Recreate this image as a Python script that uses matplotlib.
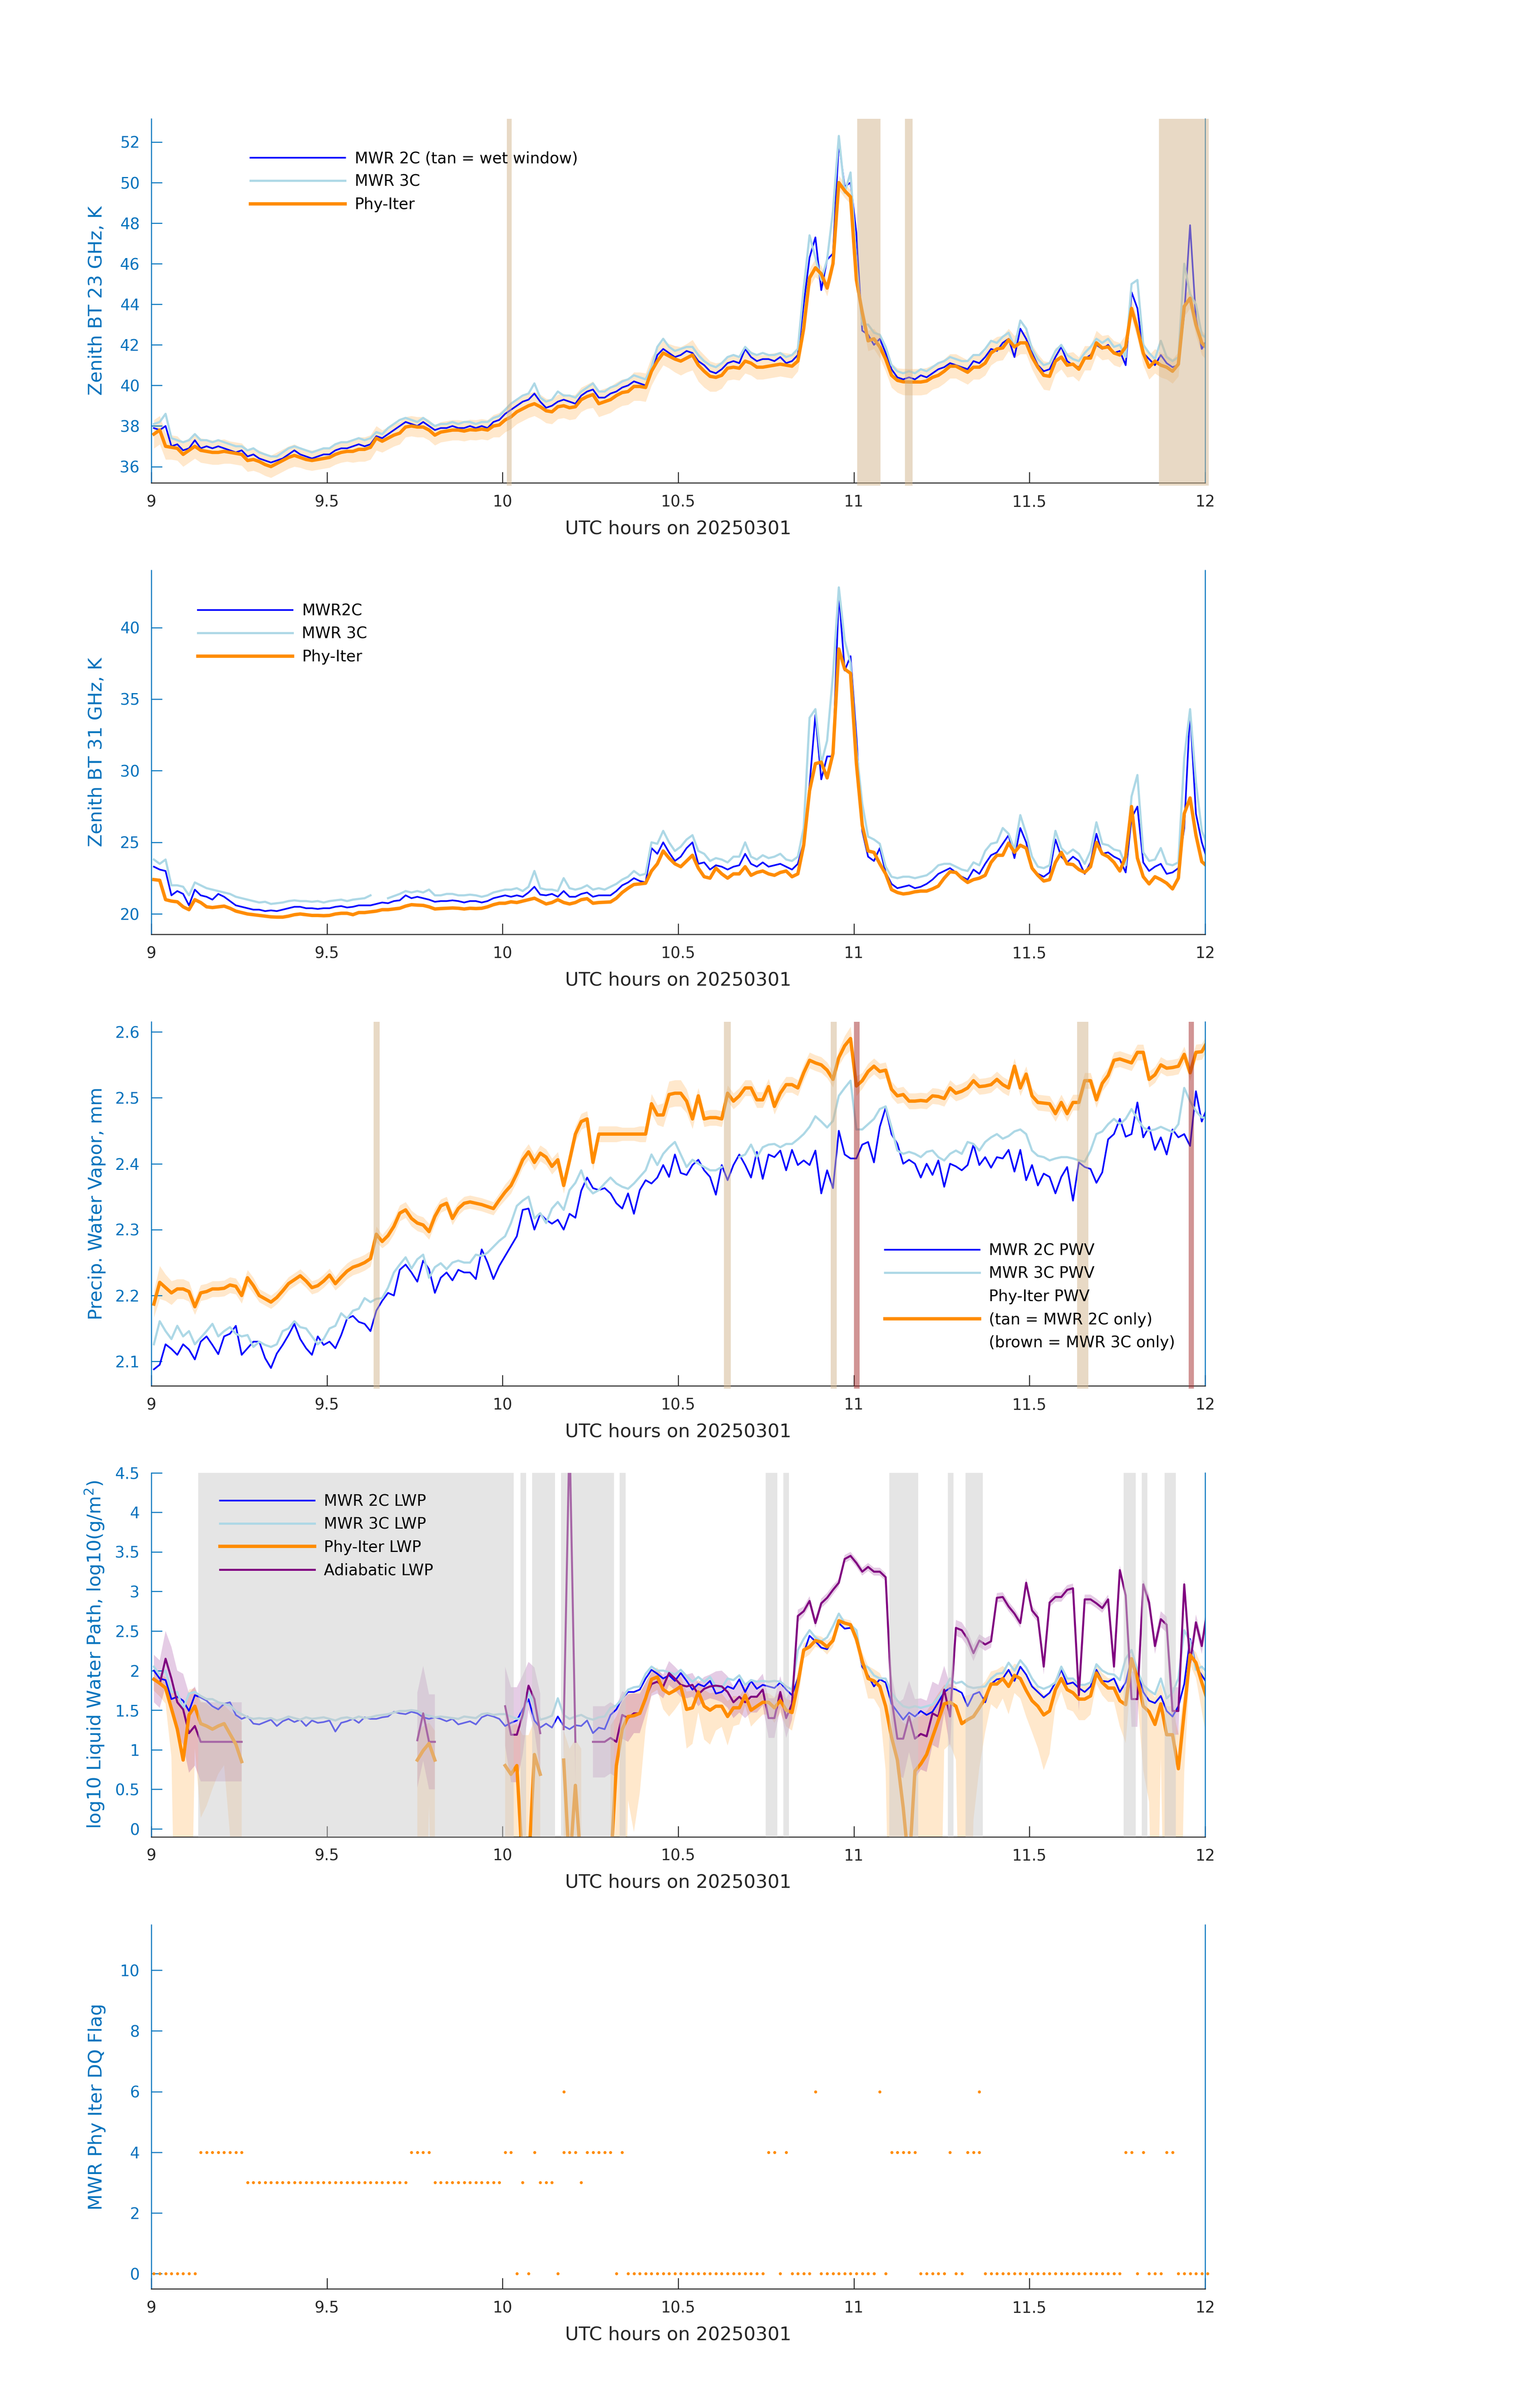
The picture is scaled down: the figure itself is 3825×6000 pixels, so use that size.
import numpy as np
import matplotlib
matplotlib.use("Agg")
import matplotlib.pyplot as plt
from matplotlib.lines import Line2D
from matplotlib.ticker import FuncFormatter

nan = np.nan

# one sample per minute, 09:00 - 12:00 UTC
utc_hours = 9 + (np.arange(181) + 0.43) / 60

x_ticks = [9, 9.5, 10, 10.5, 11, 11.5, 12]
x_tick_labels = ["9", "9.5", "10", "10.5", "11", "11.5", "12"]

# ---------------- panel 1: 23 GHz brightness temperature (K)
bt23_2c = [
    37.9, 37.8, 38.0, 37.0, 37.1, 36.8, 36.9, 37.3, 36.9, 37.0,
    36.9, 37.0, 36.9, 36.8, 36.7, 36.8, 36.5, 36.6, 36.4, 36.3,
    36.2, 36.3, 36.4, 36.6, 36.8, 36.6, 36.5, 36.4, 36.5, 36.6,
    36.6, 36.8, 36.9, 36.9, 37.0, 37.1, 37.0, 37.1, 37.5, 37.4,
    37.6, 37.8, 38.0, 38.2, 38.1, 38.0, 38.2, 38.0, 37.8, 37.9,
    37.9, 38.0, 37.9, 37.9, 38.0, 37.9, 38.0, 37.9, 38.2, 38.3,
    38.6, 38.8, 39.0, 39.2, 39.3, 39.6, 39.2, 38.9, 39.0, 39.2,
    39.3, 39.2, 39.1, 39.5, 39.7, 39.8, 39.4, 39.4, 39.6, 39.7,
    39.9, 40.0, 40.2, 40.1, 40.0, 40.6, 41.5, 41.8, 41.6, 41.4,
    41.5, 41.7, 41.6, 41.2, 41.0, 40.7, 40.6, 40.8, 41.1, 41.2,
    41.1, 41.8, 41.4, 41.2, 41.3, 41.3, 41.2, 41.4, 41.1, 41.2,
    41.5, 44.0, 46.3, 47.3, 44.7, 46.2, 46.5, 52.0, 49.8, 50.0,
    47.5, 42.7, 42.5, 42.0, 42.3, 41.6, 40.8, 40.4, 40.3, 40.4,
    40.3, 40.5, 40.4, 40.6, 40.8, 40.9, 41.1, 41.0, 40.9, 40.8,
    41.2, 41.1, 41.4, 41.8, 41.7, 42.1, 42.3, 41.4, 42.8, 42.3,
    41.6, 41.0, 40.7, 40.8, 41.4, 41.9, 41.2, 41.0, 40.9, 41.3,
    41.5, 42.0, 41.8, 42.0, 41.6, 41.7, 41.0, 44.6, 43.8, 41.6,
    41.3, 41.0, 41.5, 41.1, 40.9, 41.0, 43.5, 47.9, 43.3, 41.8,
    42.3]
bt23_3c = [
    38.1, 38.2, 38.6, 37.4, 37.3, 37.2, 37.3, 37.6, 37.3, 37.3,
    37.2, 37.3, 37.2, 37.1, 37.0, 37.0, 36.8, 36.9, 36.7, 36.6,
    36.5, 36.5, 36.7, 36.9, 37.0, 36.9, 36.8, 36.7, 36.8, 36.9,
    36.9, 37.1, 37.2, 37.2, 37.3, 37.4, 37.3, 37.4, 37.7, 37.6,
    37.9, 38.1, 38.3, 38.4, 38.3, 38.2, 38.4, 38.2, 38.0, 38.1,
    38.1, 38.2, 38.1, 38.2, 38.2, 38.1, 38.2, 38.2, 38.4, 38.5,
    38.8, 39.1, 39.3, 39.5, 39.6, 40.1, 39.4, 39.2, 39.3, 39.7,
    39.5, 39.5, 39.4, 39.7, 39.9, 40.1, 39.7, 39.7, 39.9, 40.0,
    40.2, 40.3, 40.5, 40.4, 40.3, 40.9, 41.9, 42.3, 41.9, 41.7,
    41.8, 41.9, 41.9, 41.5, 41.2, 41.0, 40.9, 41.1, 41.4, 41.5,
    41.4, 41.9, 41.6, 41.5, 41.6, 41.5, 41.5, 41.6, 41.4, 41.5,
    41.8, 44.8, 47.4, 46.3, 45.2, 46.2, 48.6, 52.3, 49.5, 50.5,
    46.0, 43.0, 43.0, 42.6, 42.5, 41.9, 41.0, 40.7, 40.6, 40.7,
    40.6, 40.8, 40.7, 40.9, 41.1, 41.2, 41.4, 41.3, 41.2, 41.2,
    41.5, 41.5, 41.8, 42.2, 42.1, 42.4, 42.6, 41.9, 43.2, 42.8,
    41.8, 41.3, 41.0, 41.1, 41.7, 42.0, 41.5, 41.3, 41.2, 41.6,
    41.9, 42.3, 42.1, 42.3, 41.9, 42.0, 41.4, 45.0, 45.2, 42.0,
    41.6, 41.3, 42.2, 41.4, 41.2, 41.4, 46.0, 44.5, 44.0, 42.5,
    42.3]
bt23_phy = [
    37.6, 37.8, 37.0, 36.95, 36.9, 36.6, 36.8, 37.0, 36.8, 36.75,
    36.7, 36.7, 36.75, 36.7, 36.65, 36.6, 36.3, 36.35, 36.25, 36.1,
    36.0, 36.15, 36.3, 36.45, 36.55, 36.45, 36.35, 36.3, 36.35, 36.4,
    36.45, 36.6, 36.7, 36.75, 36.75, 36.85, 36.85, 36.95, 37.4, 37.25,
    37.4, 37.55, 37.65, 37.95, 38.0, 37.95, 37.95, 37.8, 37.55, 37.7,
    37.75, 37.8, 37.8, 37.75, 37.82, 37.8, 37.85, 37.8, 38.0, 38.05,
    38.3, 38.45, 38.7, 38.85, 39.0, 39.1, 38.95, 38.75, 38.7, 38.95,
    39.0, 38.9, 38.95, 39.3, 39.45, 39.55, 39.1, 39.2, 39.3, 39.5,
    39.65, 39.7, 39.95, 39.95, 39.9, 40.7, 41.2, 41.6, 41.45, 41.3,
    41.2, 41.35, 41.5, 41.0, 40.7, 40.45, 40.4, 40.5, 40.85, 40.9,
    40.85, 41.2, 41.1, 40.9, 40.9, 40.95, 41.0, 41.05, 41.0, 40.95,
    41.2, 42.8, 45.3, 45.8, 45.5, 44.8, 46.0, 50.0, 49.6, 49.3,
    45.2, 43.6, 42.2, 42.3, 41.9, 41.3, 40.5, 40.25, 40.18, 40.17,
    40.17, 40.17, 40.22, 40.4, 40.5, 40.7, 40.95, 40.95, 40.8, 40.65,
    40.9, 40.9, 41.1, 41.6, 41.8, 41.85, 42.25, 41.9, 42.1, 42.1,
    41.4, 40.9, 40.5, 40.45, 41.2, 41.4, 41.0, 41.05, 40.8, 41.35,
    41.35, 42.1, 41.85, 41.9, 41.6, 41.5, 41.9, 43.8, 42.8, 41.6,
    40.9, 41.2, 41.0, 40.9, 40.7, 41.05, 43.9, 44.3, 43.0, 42.1,
    41.8]
bt23_phy_err = [
    .7, .7, .65, .6, .6, .6, .6, .6, .6, .6,
    .6, .6, .6, .55, .55, .55, .55, .55, .55, .55,
    .55, .55, .55, .55, .55, .5, .5, .5, .5, .5,
    .5, .5, .5, .5, .55, .6, .6, .6, .6, .55,
    .55, .55, .55, .5, .5, .5, .5, .5, .5, .5,
    .5, .5, .5, .5, .5, .5, .5, .5, .55, .6,
    .6, .6, .6, .6, .6, .6, .6, .6, .6, .6,
    .6, .6, .6, .6, .6, .65, .65, .65, .65, .65,
    .65, .65, .7, .7, .7, .7, .65, .6, .6, .65,
    .7, .7, .75, .8, .8, .75, .7, .65, .6, .6,
    .6, .6, .6, .6, .6, .6, .6, .6, .6, .6,
    .5, .5, .45, .45, .4, .4, .4, .35, .35, .35,
    .4, .45, .5, .5, .55, .6, .6, .6, .65, .65,
    .65, .65, .65, .6, .6, .6, .6, .6, .6, .6,
    .6, .6, .6, .6, .6, .6, .55, .55, .55, .55,
    .6, .65, .7, .7, .65, .6, .6, .6, .6, .6,
    .6, .6, .6, .6, .6, .6, .6, .5, .5, .6,
    .6, .6, .6, .6, .6, .6, .5, .5, .55, .6,
    .6]
wet_windows = [(10.012, 10.026), (11.010, 11.076), (11.145, 11.167), (11.869, 12.01)]

# ---------------- panel 2: 31 GHz brightness temperature (K)
bt31_2c = [
    23.3, 23.1, 23.0, 21.3, 21.6, 21.4, 20.6, 21.7, 21.3, 21.2,
    21.0, 21.4, 21.2, 20.9, 20.6, 20.5, 20.4, 20.3, 20.3, 20.2,
    20.25, 20.2, 20.3, 20.4, 20.5, 20.5, 20.4, 20.4, 20.35, 20.4,
    20.4, 20.5, 20.55, 20.45, 20.5, 20.6, 20.6, 20.6, 20.7, 20.8,
    20.75, 20.9, 20.95, 21.3, 21.1, 21.2, 21.1, 21.0, 20.85, 20.9,
    20.9, 20.95, 20.9, 20.8, 20.9, 20.9, 20.8, 20.9, 21.1, 21.2,
    21.3, 21.2, 21.3, 21.2, 21.5, 21.9, 21.35, 21.3, 21.4, 21.2,
    21.6, 21.2, 21.2, 21.4, 21.5, 21.2, 21.3, 21.3, 21.3, 21.6,
    22.0, 22.2, 22.5, 22.3, 22.2, 24.6, 24.2, 25.0, 24.3, 23.7,
    24.0, 24.6, 25.0, 23.5, 23.6, 23.1, 23.4, 23.3, 23.1, 23.3,
    23.4, 24.2, 23.5, 23.3, 23.6, 23.3, 23.4, 23.5, 23.3, 23.1,
    23.5, 25.0, 29.0, 33.9, 29.4, 31.0, 31.0, 42.4, 37.0, 38.0,
    32.4, 25.8, 24.0, 23.7, 24.6, 22.9, 22.1, 21.8, 21.9, 22.0,
    21.8, 21.9, 22.1, 22.4, 22.8, 23.0, 23.2, 22.9, 22.6, 22.4,
    23.1, 22.8, 23.5, 24.1, 24.3, 24.9, 25.5, 23.9, 26.0, 25.0,
    23.2, 22.8, 22.6, 22.9, 25.2, 24.0, 23.6, 24.0, 23.7, 22.8,
    23.6, 25.6, 24.2, 24.3, 24.0, 23.8, 22.9, 26.7, 27.5, 23.6,
    23.0, 23.3, 23.5, 22.8, 22.9, 23.2, 26.0, 34.2, 27.0, 25.0,
    23.7]
bt31_3c = [
    23.8, 23.5, 23.8, 22.0, 22.0, 21.9, 21.3, 22.2, 22.0, 21.8,
    21.7, 21.6, 21.5, 21.4, 21.2, 21.1, 21.0, 20.9, 20.8, 20.85,
    20.7, 20.75, 20.8, 20.9, 20.95, 20.9, 20.9, 20.85, 20.9, 20.8,
    20.9, 20.95, 21.0, 20.9, 21.0, 21.05, 21.1, 21.3, nan, nan,
    21.1, 21.25, 21.4, 21.6, 21.5, 21.6, 21.5, 21.7, 21.3, 21.3,
    21.4, 21.4, 21.3, 21.3, 21.35, 21.3, 21.2, 21.3, 21.5, 21.6,
    21.7, 21.7, 21.8, 21.6, 21.9, 23.0, 21.8, 21.7, 21.7, 21.6,
    22.5, 21.8, 21.7, 21.8, 22.0, 21.7, 21.8, 21.7, 21.9, 22.1,
    22.4, 22.6, 23.0, 22.7, 22.8, 25.0, 24.9, 25.8, 25.0, 24.4,
    24.7, 25.2, 25.5, 24.4, 24.2, 23.7, 23.9, 23.8, 23.6, 24.0,
    24.0, 25.0, 24.0, 23.8, 24.1, 23.9, 24.0, 24.2, 23.8, 23.7,
    24.0, 26.0, 33.7, 34.3, 30.5, 32.1, 36.7, 42.8, 39.1, 37.5,
    31.5, 27.7, 25.4, 25.2, 24.9, 23.3, 22.6, 22.5, 22.6, 22.6,
    22.5, 22.6, 22.7, 23.0, 23.4, 23.5, 23.5, 23.3, 23.1, 23.0,
    23.6, 23.4, 24.4, 24.9, 25.0, 26.0, 25.6, 24.5, 26.9, 25.6,
    24.0, 23.3, 23.2, 23.4, 25.8, 24.6, 24.2, 24.5, 24.2, 23.5,
    24.4, 26.4, 24.9, 24.8, 24.5, 24.4, 23.4, 28.2, 29.7, 24.3,
    23.7, 23.8, 24.6, 23.5, 23.4, 23.6, 30.9, 34.3, 29.2, 25.8,
    24.8]
bt31_phy = [
    22.4, 22.35, 21.0, 20.9, 20.85, 20.5, 20.3, 21.0, 20.8, 20.5,
    20.45, 20.5, 20.55, 20.4, 20.2, 20.1, 20.0, 19.95, 19.9, 19.85,
    19.8, 19.78, 19.78, 19.85, 19.95, 20.0, 19.95, 19.9, 19.9, 19.88,
    19.9, 20.0, 20.05, 20.05, 19.95, 20.1, 20.1, 20.15, 20.2, 20.3,
    20.3, 20.35, 20.4, 20.55, 20.65, 20.62, 20.6, 20.5, 20.35, 20.38,
    20.4, 20.42, 20.4, 20.35, 20.4, 20.38, 20.4, 20.5, 20.65, 20.75,
    20.75, 20.85, 20.8, 20.9, 21.0, 21.1, 20.9, 20.7, 20.8, 21.0,
    20.8, 20.7, 20.8, 21.0, 21.07, 20.75, 20.8, 20.82, 20.84, 21.1,
    21.5, 21.8, 22.06, 22.1, 22.15, 23.0, 23.5, 24.4, 23.9, 23.5,
    23.3, 23.7, 24.1, 23.2, 22.6, 22.5, 23.2, 22.8, 22.5, 22.8,
    22.8, 23.3, 22.7, 22.9, 23.0, 22.8, 22.7, 22.9, 23.0, 22.6,
    22.8, 24.8, 28.6, 30.5, 30.6, 29.5, 31.2, 38.5, 37.1, 36.8,
    30.5, 26.2, 24.4, 24.3, 23.5, 22.8, 21.7, 21.5, 21.4, 21.45,
    21.55, 21.6, 21.6, 21.75, 21.95, 22.5, 22.95, 22.9, 22.5, 22.2,
    22.4, 22.5, 22.7, 23.6, 24.1, 24.1, 24.95, 24.3, 24.8, 24.6,
    23.2, 22.7, 22.3, 22.4, 23.6, 24.3, 23.5, 23.45, 23.1, 22.9,
    23.3, 25.0, 24.2, 24.0, 23.6, 23.0, 24.0, 27.5, 23.9, 22.6,
    22.1, 22.6, 22.4, 22.15, 21.75, 22.5, 27.0, 28.1, 25.5, 23.65,
    23.3]
bt31_phy_err = 0.12

# ---------------- panel 3: precipitable water vapour (mm)
pwv_2c = [
    2.088, 2.095, 2.126, 2.119, 2.110, 2.126, 2.118, 2.103, 2.13, 2.138,
    2.125, 2.111, 2.138, 2.142, 2.154, 2.11, 2.12, 2.13, 2.13, 2.105,
    2.09, 2.112, 2.125, 2.14, 2.157, 2.134, 2.12, 2.11, 2.138, 2.125,
    2.13, 2.12, 2.14, 2.165, 2.169, 2.16, 2.157, 2.146, 2.177, 2.192,
    2.204, 2.2, 2.239, 2.247, 2.235, 2.221, 2.253, 2.24, 2.204, 2.227,
    2.235, 2.223, 2.239, 2.235, 2.235, 2.225, 2.27, 2.25, 2.225, 2.245,
    2.26, 2.275, 2.29, 2.33, 2.332, 2.3, 2.324, 2.315, 2.309, 2.315,
    2.3, 2.324, 2.318, 2.359, 2.379, 2.363, 2.36, 2.363, 2.355, 2.34,
    2.332, 2.355, 2.324, 2.36, 2.375, 2.37, 2.379, 2.398, 2.38, 2.414,
    2.386, 2.383, 2.398, 2.406, 2.39, 2.38, 2.353, 2.398, 2.375, 2.398,
    2.414, 2.398, 2.379, 2.418, 2.377, 2.414, 2.41, 2.42, 2.39, 2.421,
    2.398, 2.405, 2.398, 2.42, 2.355, 2.39, 2.363, 2.45, 2.414, 2.408,
    2.408, 2.429, 2.433, 2.402, 2.456, 2.485, 2.445, 2.43, 2.4, 2.406,
    2.4, 2.379, 2.4, 2.383, 2.405, 2.365, 2.4, 2.396, 2.39, 2.398,
    2.429, 2.398, 2.41, 2.394, 2.41, 2.408, 2.421, 2.388, 2.421, 2.375,
    2.398, 2.367, 2.385, 2.38, 2.355, 2.38, 2.395, 2.344, 2.402, 2.395,
    2.392, 2.371, 2.387, 2.437, 2.445, 2.468, 2.441, 2.445, 2.493, 2.44,
    2.456, 2.421, 2.44, 2.414, 2.452, 2.44, 2.445, 2.427, 2.51, 2.464,
    2.487]
pwv_3c = [
    2.126, 2.161, 2.146, 2.134, 2.154, 2.138, 2.146, 2.126, 2.136, 2.146,
    2.157, 2.138, 2.146, 2.152, 2.142, 2.138, 2.14, 2.122, 2.13, 2.125,
    2.122, 2.126, 2.146, 2.15, 2.161, 2.152, 2.15, 2.138, 2.126, 2.134,
    2.15, 2.154, 2.173, 2.165, 2.177, 2.18, 2.196, 2.19, 2.195, 2.196,
    2.212, 2.235, 2.247, 2.258, 2.241, 2.255, 2.262, 2.227, 2.243, 2.249,
    2.24, 2.25, 2.253, 2.25, 2.25, 2.262, 2.26, 2.265, 2.274, 2.283,
    2.29, 2.31, 2.336, 2.344, 2.35, 2.317, 2.325, 2.31, 2.332, 2.342,
    2.33, 2.36, 2.371, 2.39, 2.365, 2.355, 2.36, 2.37, 2.379, 2.37,
    2.365, 2.362, 2.37, 2.38, 2.39, 2.414, 2.398, 2.415, 2.425, 2.433,
    2.414, 2.395, 2.406, 2.4, 2.395, 2.39, 2.39, 2.395, nan, nan,
    2.41, 2.414, 2.429, 2.41, 2.425, 2.429, 2.43, 2.425, 2.43, 2.43,
    2.437, 2.445, 2.456, 2.472, 2.464, 2.455, 2.465, 2.503, 2.515, 2.526,
    2.452, 2.452, 2.46, 2.468, 2.483, 2.487, 2.455, 2.42, 2.415, 2.418,
    2.415, 2.41, 2.418, 2.42, 2.41, 2.405, 2.415, 2.42, 2.415, 2.433,
    2.43, 2.42, 2.433, 2.44, 2.445, 2.438, 2.442, 2.449, 2.452, 2.445,
    2.42, 2.412, 2.41, 2.405, 2.408, 2.41, 2.41, 2.408, 2.405, 2.403,
    2.42, 2.445, 2.449, 2.46, 2.468, 2.46, 2.468, 2.483, 2.468, 2.455,
    2.45, 2.452, 2.456, 2.452, 2.448, 2.46, 2.515, 2.495, 2.48, 2.47,
    2.47]
pwv_phy = [
    2.187, 2.22, 2.212, 2.204, 2.21, 2.21, 2.206, 2.183, 2.204, 2.206,
    2.21, 2.21, 2.211, 2.216, 2.214, 2.2, 2.227, 2.215, 2.2, 2.195,
    2.19, 2.197, 2.207, 2.218, 2.224, 2.23, 2.222, 2.212, 2.215, 2.222,
    2.231, 2.218, 2.228, 2.237, 2.243, 2.246, 2.25, 2.256, 2.293, 2.282,
    2.291, 2.305, 2.325, 2.33, 2.317, 2.31, 2.307, 2.297, 2.32, 2.336,
    2.34, 2.317, 2.332, 2.34, 2.342, 2.34, 2.338, 2.335, 2.332, 2.345,
    2.357, 2.367, 2.385, 2.406, 2.418, 2.402, 2.416, 2.41, 2.396, 2.406,
    2.367, 2.405, 2.445, 2.464, 2.468, 2.402, 2.445, 2.445, 2.445, 2.445,
    2.445, 2.445, 2.445, 2.445, 2.445, 2.491, 2.474, 2.474, 2.505, 2.507,
    2.507, 2.495, 2.468, 2.503, 2.468, 2.47, 2.47, 2.468, 2.507, 2.495,
    2.503, 2.515, 2.515, 2.497, 2.497, 2.517, 2.487, 2.507, 2.52, 2.52,
    2.515, 2.538, 2.557, 2.553, 2.55, 2.542, 2.528, 2.561, 2.579, 2.59,
    2.518, 2.526, 2.54, 2.548, 2.54, 2.542, 2.513, 2.503, 2.505, 2.495,
    2.495, 2.496, 2.495, 2.503, 2.502, 2.499, 2.515, 2.507, 2.51, 2.515,
    2.526, 2.517, 2.518, 2.52, 2.528, 2.52, 2.515, 2.548, 2.515, 2.536,
    2.503, 2.493, 2.492, 2.491, 2.476, 2.493, 2.476, 2.493, 2.493, 2.526,
    2.526, 2.497, 2.522, 2.534, 2.557, 2.559, 2.556, 2.553, 2.569, 2.569,
    2.528, 2.535, 2.55, 2.545, 2.546, 2.548, 2.566, 2.538, 2.569, 2.57,
    2.586]
pwv_phy_err = [
    .02, .025, .02, .018, .015, .015, .015, .012, .012, .012,
    .012, .012, .012, .012, .012, .012, .012, .012, .01, .01,
    .01, .01, .01, .01, .01, .01, .01, .01, .01, .01,
    .01, .01, .012, .012, .012, .012, .012, .012, .012, .01,
    .012, .012, .012, .012, .012, .012, .012, .012, .012, .01,
    .01, .01, .01, .01, .01, .01, .01, .01, .01, .01,
    .012, .012, .012, .012, .012, .012, .012, .012, .012, .012,
    .012, .012, .012, .012, .012, .012, .012, .012, .012, .012,
    .01, .01, .01, .012, .012, .015, .015, .018, .02, .02,
    .02, .018, .015, .012, .012, .012, .012, .012, .012, .012,
    .012, .012, .012, .012, .012, .012, .012, .012, .012, .012,
    .012, .012, .012, .012, .012, .012, .012, .012, .015, .018,
    .015, .012, .012, .012, .012, .012, .012, .012, .012, .012,
    .012, .012, .012, .012, .012, .012, .012, .012, .012, .012,
    .012, .012, .012, .012, .012, .012, .012, .012, .012, .012,
    .012, .012, .012, .012, .012, .012, .012, .012, .012, .012,
    .012, .012, .012, .012, .012, .012, .012, .012, .012, .012,
    .012, .012, .012, .012, .012, .012, .012, .012, .012, .012,
    .012]
pwv_2c_only = [(9.633, 9.650), (10.630, 10.650), (10.934, 10.951), (11.635, 11.668)]
pwv_3c_only = [(11.0, 11.016), (11.953, 11.968)]

# ---------------- panel 4: log10 liquid water path
lwp_2c = [
    2.0, 1.9, 1.88, 1.64, 1.67, 1.62, 1.49, 1.69, 1.66, 1.62,
    1.55, 1.51, 1.58, 1.6, 1.44, 1.39, 1.42, 1.33, 1.32, 1.35,
    1.38, 1.3, 1.36, 1.39, 1.35, 1.38, 1.3, 1.37, 1.34, 1.35,
    1.37, 1.23, 1.34, 1.36, 1.39, 1.34, 1.41, 1.39, 1.39, 1.41,
    1.42, 1.48, 1.46, 1.45, 1.48, 1.46, 1.41, 1.39, 1.41, 1.39,
    1.36, 1.39, 1.32, 1.34, 1.36, 1.32, 1.41, 1.44, 1.42, 1.39,
    1.3, 1.34, 1.37, 1.51, 1.64, 1.37, 1.28, 1.33, 1.28, 1.42,
    1.3, 1.26, 1.31, 1.3, 1.37, 1.21, 1.28, 1.26, 1.44, 1.51,
    1.65, 1.73, 1.73, 1.76, 1.9, 2.01, 1.96, 1.9, 1.94, 1.87,
    1.97, 1.87, 1.76, 1.83, 1.8, 1.87, 1.71, 1.73, 1.8, 1.77,
    1.89, 1.73, 1.87, 1.77, 1.82, 1.8, 1.78, 1.85, 1.76, 1.69,
    1.9, 2.22, 2.44, 2.37, 2.29, 2.27, 2.4, 2.6, 2.53, 2.54,
    2.44, 2.05, 1.94, 1.8, 1.89, 1.85, 1.58, 1.48, 1.38, 1.47,
    1.42, 1.49, 1.44, 1.48, 1.6, 1.73, 1.78, 1.76, 1.72, 1.55,
    1.7, 1.73, 1.6, 1.83, 1.89, 1.9, 2.01, 1.87, 2.05, 1.95,
    1.8, 1.73, 1.66, 1.72, 1.85, 2.01, 1.83, 1.85, 1.78, 1.73,
    1.8, 2.01, 1.87, 1.86, 1.9, 1.73, 1.85, 2.15, 2.01, 1.73,
    1.62, 1.59, 1.68, 1.49, 1.42, 1.55, 1.83, 2.4, 2.05, 1.94,
    1.83]
lwp_3c = [
    2.05, 1.94, 2.0, 1.73, 1.73, 1.52, 1.71, 1.73, 1.68, 1.64,
    1.64, 1.6, 1.58, 1.56, 1.49, 1.45, 1.41, 1.39, 1.4, 1.39,
    1.4, 1.37, 1.39, 1.42, 1.4, 1.38, 1.41, 1.39, 1.4, 1.41,
    1.39, 1.37, 1.4, 1.41, 1.39, 1.42, 1.4, 1.41, 1.43, 1.44,
    1.45, 1.47, 1.49, 1.49, 1.5, 1.49, 1.45, 1.43, 1.41, 1.42,
    1.41, 1.4, 1.39, 1.42, 1.41, 1.4, 1.45, 1.46, 1.44, 1.45,
    1.45, 1.42, 1.39, 1.4, 1.73, 1.56, 1.38, 1.4, 1.43, 1.65,
    1.44, 1.39, 1.42, 1.44, 1.4, 1.38, 1.41, 1.42, 1.53, 1.56,
    1.65, 1.76, 1.79, 1.8, 1.96, 2.05, 2.0, 2.0, 1.98, 1.95,
    2.01, 1.93, 1.86, 1.92, 1.86, 1.92, 1.8, 1.78, 1.9, 1.88,
    1.94, 1.82, 1.88, 1.86, 1.87, 1.86, 1.87, 1.86, 1.8, 1.76,
    2.26, 2.4, 2.51, 2.42, 2.37, 2.42, 2.56, 2.72, 2.6, 2.58,
    2.51, 2.08, 2.04, 1.94, 1.9, 1.9, 1.72, 1.62, 1.55, 1.53,
    1.55, 1.53, 1.55, 1.57, 1.66, 1.76, 1.9, 1.84, 1.86, 1.8,
    1.78, 1.79, 1.8, 1.9, 1.96, 1.97, 2.1, 2.0, 2.13, 2.04,
    1.9, 1.8, 1.77, 1.8, 1.85, 2.05, 1.9, 1.9, 1.82, 1.82,
    1.85, 2.08, 2.0, 1.96, 1.95, 1.88, 2.15, 2.26, 2.0, 1.82,
    1.75, 1.7, 1.9, 1.65, 1.72, 1.9, 2.51, 2.37, 2.01, 2.05,
    1.97]
lwp_phy = [
    1.89, 1.84, 1.78, 1.52, 1.26, 0.87, 1.44, 1.55, 1.33, 1.3,
    1.26, 1.3, 1.33, 1.2, 1.07, 0.85, nan, nan, nan, nan,
    nan, nan, nan, nan, nan, nan, nan, nan, nan, nan,
    nan, nan, nan, nan, nan, nan, nan, nan, nan, nan,
    nan, nan, nan, nan, nan, 0.87, 0.99, 1.08, 0.87, nan,
    nan, nan, nan, nan, nan, nan, nan, nan, nan, nan,
    0.8, 0.69, 0.8, -0.5, -0.5, 0.94, 0.69, nan, nan, nan,
    0.87, -0.5, 0.55, -0.5, nan, nan, nan, nan, -0.5, 0.8,
    1.26, 1.42, 1.43, 1.46, 1.65, 1.89, 1.92, 1.76, 1.71, 1.75,
    1.8, 1.51, 1.53, 1.73, 1.55, 1.5, 1.55, 1.55, 1.42, 1.53,
    1.53, 1.69, 1.5, 1.55, 1.6, 1.6, 1.53, 1.62, 1.5, 1.47,
    1.83, 2.26, 2.3, 2.38, 2.36, 2.3, 2.38, 2.63, 2.6, 2.58,
    2.4, 2.12, 1.9, 1.87, 1.8, 1.55, 1.16, 0.87, 0.27, -0.5,
    0.73, 0.82, 0.94, 1.16, 1.37, 1.58, 1.6, 1.55, 1.33, 1.38,
    1.42, 1.53, 1.65, 1.83, 1.83, 1.9, 1.8, 1.94, 1.9, 1.75,
    1.62, 1.55, 1.44, 1.49, 1.76, 1.9, 1.76, 1.72, 1.64, 1.64,
    1.68, 1.97, 1.85, 1.78, 1.78, 1.62, 1.57, 2.15, 1.9, 1.55,
    1.48, 1.32, 1.58, 1.19, 1.19, 0.76, 1.48, 2.2, 2.1, 1.85,
    1.62]
# Phy-Iter LWP uncertainty, g/m2
lwp_phy_err = [
    22, 22, 22, 25, 30, 25, 30, 25, 20, 18,
    15, 15, 15, 15, 15, 15, 0, 0, 0, 0,
    0, 0, 0, 0, 0, 0, 0, 0, 0, 0,
    0, 0, 0, 0, 0, 0, 0, 0, 0, 0,
    0, 0, 0, 0, 0, 10, 10, 10, 10, 0,
    0, 0, 0, 0, 0, 0, 0, 0, 0, 0,
    15, 15, 15, 15, 15, 15, 15, 0, 0, 0,
    10, 10, 10, 10, 0, 0, 0, 0, 20, 20,
    22, 24, 26, 26, 26, 26, 26, 25, 25, 24,
    22, 22, 22, 24, 22, 20, 18, 16, 15, 14,
    13, 13, 12, 12, 12, 12, 12, 12, 12, 12,
    30, 40, 40, 40, 40, 40, 40, 50, 50, 50,
    45, 40, 35, 30, 30, 30, 25, 20, 20, 20,
    20, 20, 22, 25, 28, 28, 28, 28, 25, 25,
    25, 28, 28, 30, 35, 35, 35, 35, 35, 30,
    25, 25, 22, 22, 22, 25, 25, 22, 20, 20,
    20, 25, 22, 20, 20, 22, 25, 35, 35, 30,
    28, 25, 30, 20, 20, 10, 25, 40, 45, 40,
    30]
lwp_adiabatic = [
    1.9, 1.83, 2.15, 1.9, 1.6, 1.51, 1.21, 1.3, 1.1, 1.1,
    1.1, 1.1, 1.1, 1.1, 1.1, 1.1, nan, nan, nan, nan,
    nan, nan, nan, nan, nan, nan, nan, nan, nan, nan,
    nan, nan, nan, nan, nan, nan, nan, nan, nan, nan,
    nan, nan, nan, nan, nan, 1.12, 1.46, 1.1, 1.1, nan,
    nan, nan, nan, nan, nan, nan, nan, nan, nan, nan,
    1.55, 1.19, 1.19, 1.44, 1.81, 1.64, 1.21, nan, nan, nan,
    1.26, 5.0, 1.1, nan, nan, 1.1, 1.1, 1.1, 1.15, 1.1,
    1.44, 1.4, 1.46, 1.46, 1.65, 1.83, 1.86, 1.8, 1.97, 1.9,
    1.82, 1.8, 1.82, 1.7, 1.77, 1.8, 1.81, 1.8, 1.73, 1.6,
    1.67, 1.6, 1.67, 1.67, 1.76, 1.4, 1.4, 1.73, 1.4, 1.58,
    2.69, 2.75, 2.88, 2.6, 2.85, 2.92, 3.02, 3.11, 3.41, 3.45,
    3.36, 3.25, 3.31, 3.25, 3.25, 3.18, 1.65, 1.14, 1.14, 1.42,
    1.14, 1.2, 1.17, 1.46, 1.42, 1.76, 1.42, 2.54, 2.51, 2.4,
    2.22, 2.38, 2.33, 2.37, 2.92, 2.93, 2.81, 2.72, 2.6, 3.11,
    2.76, 2.67, 2.05, 2.86, 2.93, 2.93, 3.02, 3.04, 1.69, 2.9,
    2.9, 2.85, 2.79, 2.9, 2.05, 3.27, 2.95, 1.64, 1.64, 3.09,
    2.86, 2.31, 2.65, 2.58, 1.49, 1.49, 3.09, 2.1, 2.61, 2.31,
    2.8]
# adiabatic LWP spread, log10 units
lwp_adiabatic_err = [
    .3, .3, .35, .4, .4, .45, .5, .5, .5, .5,
    .5, .5, .5, .5, .5, .5, 0, 0, 0, 0,
    0, 0, 0, 0, 0, 0, 0, 0, 0, 0,
    0, 0, 0, 0, 0, 0, 0, 0, 0, 0,
    0, 0, 0, 0, 0, .6, .6, .6, .6, 0,
    0, 0, 0, 0, 0, 0, 0, 0, 0, 0,
    .5, .6, .6, .5, .3, .4, .5, 0, 0, 0,
    .4, .1, .5, 0, 0, .45, .45, .45, .45, .45,
    .3, .3, .25, .25, .2, .15, .15, .15, .15, .15,
    .15, .15, .15, .15, .15, .15, .18, .2, .2, .2,
    .2, .2, .2, .2, .2, .25, .25, .2, .25, .2,
    .08, .06, .06, .06, .06, .06, .06, .05, .05, .05,
    .05, .05, .05, .05, .05, .05, .3, .45, .5, .45,
    .5, .45, .45, .4, .4, .3, .4, .1, .1, .1,
    .1, .08, .08, .08, .06, .06, .06, .06, .06, .06,
    .06, .06, .1, .06, .06, .06, .06, .06, .2, .06,
    .06, .06, .06, .06, .1, .06, .06, .35, .35, .06,
    .1, .1, .1, .1, .3, .3, .06, .1, .1, .1,
    .1]
lwp_masked = [(9.134, 10.031), (10.051, 10.067), (10.084, 10.149), (10.166, 10.317),
              (10.333, 10.350), (10.749, 10.782), (10.799, 10.815), (11.101, 11.183),
              (11.268, 11.284), (11.318, 11.367), (11.768, 11.802), (11.819, 11.835),
              (11.885, 11.917)]

# ---------------- panel 5: Phy-Iter data quality flag (value, run length in minutes)
dq_runs = [(0, 8), (4, 8), (3, 28), (4, 4), (3, 12), (4, 2), (0, 1), (3, 1), (0, 1),
           (4, 1), (3, 3), (0, 1), (6, 1), (4, 2), (3, 1), (4, 5), (0, 1), (4, 1),
           (0, 24), (4, 2), (0, 1), (4, 1), (0, 4), (6, 1), (0, 10), (6, 1), (0, 1),
           (4, 5), (0, 5), (4, 1), (0, 2), (4, 3), (0, 24), (4, 2), (0, 1), (4, 1),
           (0, 3), (4, 2), (0, 6)]
dq_extra_minute = [70, 141]
dq_extra_flag = [4, 6]

BLUE_AX = "#0072BD"
DARK = "#262626"


def style_axes(ax, ylim, yticks, ylabel):
    ax.set_xlim(9, 12)
    ax.set_ylim(*ylim)
    ax.set_xticks(x_ticks)
    ax.set_xticklabels(x_tick_labels)
    ax.set_yticks(yticks)
    ax.yaxis.set_major_formatter(FuncFormatter(lambda v, p: f"{v:g}"))
    ax.tick_params(direction="in", length=6.5, width=0.6, labelsize=9.3, pad=7,
                   top=False, right=False)
    ax.tick_params(axis="y", colors=BLUE_AX)
    ax.tick_params(axis="x", colors=DARK)
    ax.spines["top"].set_visible(False)
    for side in ["left", "right"]:
        ax.spines[side].set_color(BLUE_AX)
        ax.spines[side].set_linewidth(0.6)
    ax.spines["bottom"].set_color(DARK)
    ax.spines["bottom"].set_linewidth(0.6)
    ax.set_xlabel("UTC hours on 20250301", fontsize=11.2, color=DARK, labelpad=6)
    ax.set_ylabel(ylabel, fontsize=11.2, color=BLUE_AX)
    ax.yaxis.set_label_coords(-0.043, 0.5)


def add_legend(ax, handles, labels, x, y):
    leg = ax.legend(handles, labels, loc="upper left", bbox_to_anchor=(x, y),
                    frameon=False, fontsize=9.3, handlelength=6.1, handletextpad=0.6,
                    labelspacing=0.5, borderpad=0, borderaxespad=0)
    leg.set_zorder(6)
    return leg


def shade(ax, spans, color, alpha, ymin=0.0):
    for x0, x1 in spans:
        ax.axvspan(x0, x1, ymin=ymin, ymax=1, color=color, alpha=alpha, lw=0,
                   zorder=3, clip_on=False)


fig = plt.figure(figsize=(12.75, 20), dpi=300)
left, width, height = 0.0986, 0.6865, 0.1512
bottoms = [0.7995, 0.612, 0.4245, 0.2372, 0.0495]
axes = [fig.add_axes([left, b, width, height]) for b in bottoms]

# panel 1
ax = axes[0]
p = np.array(bt23_phy)
e = np.array(bt23_phy_err)
ax.fill_between(utc_hours, p - e, p + e, color="darkorange", alpha=0.2, lw=0, zorder=1)
h1, = ax.plot(utc_hours, bt23_2c, color="blue", lw=1.0, zorder=2)
h2, = ax.plot(utc_hours, bt23_3c, color="lightblue", lw=1.3, zorder=2.1)
h3, = ax.plot(utc_hours, bt23_phy, color="darkorange", lw=2.0, zorder=2.3)
shade(ax, wet_windows, "tan", 0.5, ymin=-0.008)
style_axes(ax, (35.2, 53.15), np.arange(36, 53, 2), "Zenith BT 23 GHz, K")
add_legend(ax, [h1, h2, h3], ["MWR 2C (tan = wet window)", "MWR 3C", "Phy-Iter"], 0.094, 0.911)

# panel 2
ax = axes[1]
p = np.array(bt31_phy)
ax.fill_between(utc_hours, p - bt31_phy_err, p + bt31_phy_err, color="darkorange",
                alpha=0.2, lw=0, zorder=1)
h1, = ax.plot(utc_hours, bt31_2c, color="blue", lw=1.0, zorder=2)
h2, = ax.plot(utc_hours, bt31_3c, color="lightblue", lw=1.3, zorder=2.1)
h3, = ax.plot(utc_hours, bt31_phy, color="darkorange", lw=2.0, zorder=2.3)
style_axes(ax, (18.58, 44.0), np.arange(20, 41, 5), "Zenith BT 31 GHz, K")
add_legend(ax, [h1, h2, h3], ["MWR2C", "MWR 3C", "Phy-Iter"], 0.044, 0.909)

# panel 3
ax = axes[2]
p = np.array(pwv_phy)
e = np.array(pwv_phy_err)
ax.fill_between(utc_hours, p - e, p + e, color="darkorange", alpha=0.2, lw=0, zorder=1)
h1, = ax.plot(utc_hours, pwv_2c, color="blue", lw=1.0, zorder=2)
h2, = ax.plot(utc_hours, pwv_3c, color="lightblue", lw=1.3, zorder=2.1)
h3, = ax.plot(utc_hours, pwv_phy, color="darkorange", lw=2.0, zorder=2.3)
shade(ax, pwv_2c_only, "tan", 0.5, ymin=-0.008)
shade(ax, pwv_3c_only, "brown", 0.5, ymin=-0.008)
style_axes(ax, (2.063, 2.6155), np.arange(2.1, 2.61, 0.1), "Precip. Water Vapor, mm")
blank = Line2D([], [], color="none")
add_legend(ax, [h1, h2, blank, h3, blank],
           ["MWR 2C PWV", "MWR 3C PWV", "Phy-Iter PWV", "(tan = MWR 2C only)",
            "(brown = MWR 3C only)"], 0.696, 0.392)

# panel 4
ax = axes[3]
p = np.array(lwp_phy)
lin = 10 ** p
e = np.array(lwp_phy_err, dtype=float)
lo = np.log10(np.clip(lin - e, 1e-3, None))
hi = np.log10(lin + e)
ax.fill_between(utc_hours, lo, hi, color="darkorange", alpha=0.2, lw=0, zorder=1)
a = np.array(lwp_adiabatic)
ae = np.array(lwp_adiabatic_err)
ax.fill_between(utc_hours, a - ae, a + ae, color="purple", alpha=0.2, lw=0, zorder=1.1)
h1, = ax.plot(utc_hours, lwp_2c, color="blue", lw=1.0, zorder=2)
h2, = ax.plot(utc_hours, lwp_3c, color="lightblue", lw=1.3, zorder=2.1)
h4, = ax.plot(utc_hours, lwp_adiabatic, color="purple", lw=1.2, zorder=2.2)
h3, = ax.plot(utc_hours, lwp_phy, color="darkorange", lw=2.0, zorder=2.3)
shade(ax, lwp_masked, "0.8", 0.5)
style_axes(ax, (-0.1, 4.5), np.arange(0, 4.51, 0.5),
           "log10 Liquid Water Path, log10(g/m$^2$)")
add_legend(ax, [h1, h2, h3, h4], ["MWR 2C LWP", "MWR 3C LWP", "Phy-Iter LWP", "Adiabatic LWP"],
           0.065, 0.942)

# panel 5
ax = axes[4]
dq_flag = np.repeat([v for v, n in dq_runs], [n for v, n in dq_runs])
ax.plot(utc_hours, dq_flag, ls="none", marker="o", ms=1.8, mfc="darkorange", mec="none",
        clip_on=False, zorder=2)
ax.plot(utc_hours[dq_extra_minute], dq_extra_flag, ls="none", marker="o", ms=1.8,
        mfc="darkorange", mec="none", clip_on=False, zorder=2)
style_axes(ax, (-0.5, 11.5), np.arange(0, 11, 2), "MWR Phy Iter DQ Flag")

fig.savefig("out.png", dpi=300, facecolor="white")
